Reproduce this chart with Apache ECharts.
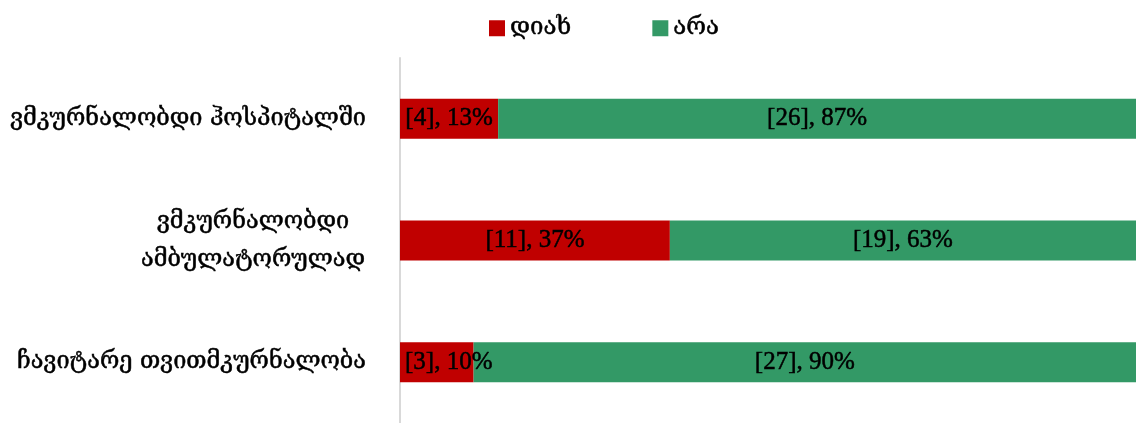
<!DOCTYPE html>
<html>
<head>
<meta charset="utf-8">
<script src="https://cdn.jsdelivr.net/npm/echarts@6/dist/echarts.min.js"></script>
<style>
  html, body { margin: 0; padding: 0; background: #fff; }
  #chart { width: 1136px; height: 423px; }
</style>
</head>
<body>
<div id="chart"></div>
<script>
// categories, top to bottom
var categories = ['ვმკურნალობდი ჰოსპიტალში', 'ვმკურნალობდი ამბულატორულად', 'ჩავიტარე თვითმკურნალობა'];
var yesCounts = [4, 11, 3];
var noCounts = [26, 19, 27];
var yesPct = [13, 37, 10];
var noPct = [87, 63, 90];
var seriesNames = ['დიახ', 'არა'];

var chart = echarts.init(document.getElementById('chart'));

function share(counts, i) {
  return counts[i] / (yesCounts[i] + noCounts[i]) * 100;
}

// text is a bit heavier in the original, fake it with a thin outline
var heavy = { textBorderColor: '#000', textBorderWidth: 0.5 };

var labelStyle = Object.assign({
  show: true,
  position: 'inside',
  color: '#000',
  fontFamily: 'Liberation Serif, DejaVu Serif, serif',
  fontSize: 25
}, heavy);

var option = {
  animation: false,
  legend: {
    data: seriesNames,
    left: 484,
    top: 11,
    itemWidth: 16,
    itemHeight: 16,
    itemGap: 81,
    icon: 'rect',
    textStyle: Object.assign({ fontFamily: 'DejaVu Serif, serif', fontSize: 24, color: '#000' }, heavy)
  },
  grid: { left: 400, right: 0, top: 58, height: 369 },
  xAxis: {
    type: 'value', min: 0, max: 100,
    show: false
  },
  yAxis: {
    type: 'category',
    inverse: true,
    data: categories,
    axisTick: { show: false },
    axisLine: { lineStyle: { color: '#d9d9d9', width: 2 } },
    axisLabel: Object.assign({
      margin: 34,
      color: '#000',
      fontFamily: 'DejaVu Serif, serif',
      fontSize: 23.5,
      lineHeight: 38,
      formatter: function (v) {
        if (v === categories[1]) return '{w|ვმკურნალობდი}\n{w|ამბულატორულად}';
        return v;
      },
      rich: { w: Object.assign({ width: 226, align: 'center', fontFamily: 'DejaVu Serif, serif', fontSize: 23.5, lineHeight: 38 }, heavy) }
    }, heavy)
  },
  series: [
    {
      name: seriesNames[0], type: 'bar', stack: 'all', barWidth: 40,
      itemStyle: { color: '#C00000' },
      label: Object.assign({}, labelStyle, {
        formatter: function (p) { return '[' + yesCounts[p.dataIndex] + '], ' + yesPct[p.dataIndex] + '%'; }
      }),
      data: categories.map(function (c, i) {
        var v = share(yesCounts, i);
        // narrow segment: label pushed to the left edge like the original
        return v < 12 ? { value: v, label: { position: 'insideLeft' } } : v;
      })
    },
    {
      name: seriesNames[1], type: 'bar', stack: 'all', barWidth: 40,
      itemStyle: { color: '#339966' },
      label: Object.assign({}, labelStyle, {
        formatter: function (p) { return '[' + noCounts[p.dataIndex] + '], ' + noPct[p.dataIndex] + '%'; }
      }),
      data: categories.map(function (c, i) { return share(noCounts, i); })
    }
  ]
};

chart.setOption(option);
</script>
</body>
</html>
